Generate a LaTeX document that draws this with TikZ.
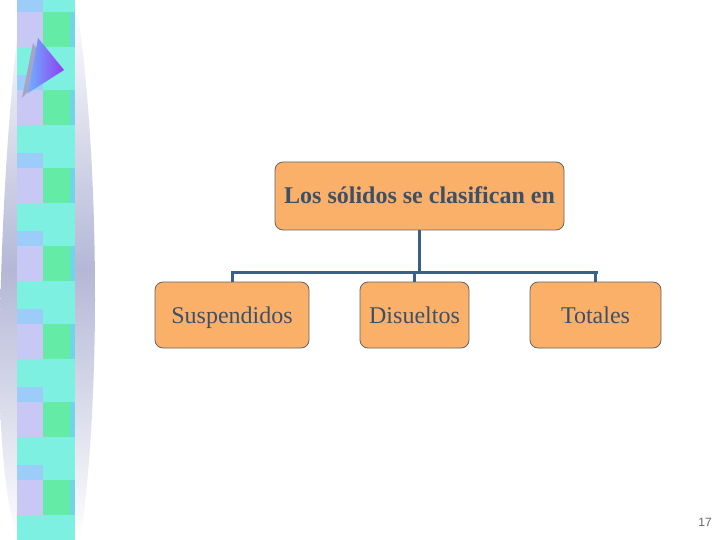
\documentclass[tikz,border=0pt]{standalone}
\usepackage{fontspec}
\setmainfont{Liberation Serif}
\newfontfamily\numfont{Liberation Sans}
\definecolor{boxfill}{RGB}{251,176,106}
\definecolor{boxline}{RGB}{100,100,100}
\definecolor{txt}{RGB}{64,80,100}
\definecolor{conn}{RGB}{58,95,138}
\definecolor{lav}{RGB}{200,200,245}
\definecolor{lblue}{RGB}{155,205,248}
\definecolor{lgreen}{RGB}{100,235,165}
\definecolor{lcyan}{RGB}{125,240,225}
\definecolor{edgecyan}{RGB}{110,215,230}
\definecolor{spindle}{RGB}{180,184,214}
\definecolor{triL}{RGB}{110,175,255}
\definecolor{triR}{RGB}{145,60,240}
\definecolor{trishadow}{RGB}{165,165,200}
\tikzset{
  boxnode/.style={draw=boxline, line width=0.8pt, fill=boxfill, rounded corners=8pt,
    text=txt, font=\fontsize{24}{28}\selectfont, inner sep=0pt, align=center,
    text height=18.5pt, text depth=2.5pt},
  connline/.style={draw=conn, line width=3pt},
}
\begin{document}
\begin{tikzpicture}[x=1pt,y=-1pt]
\useasboundingbox (0,0) rectangle (720,540);
\fill[white] (0,0) rectangle (720,540);
% spindle background
\shade[top color=white, bottom color=white, middle color=spindle]
  (22,0) .. controls (5,120) and (-2,300) .. (0,400) .. controls (2,470) and (10,520) .. (18,540)
  -- (80,540) .. controls (90,480) and (95,380) .. (95,300) .. controls (95,180) and (88,80) .. (76,0) -- cycle;
% checker strip
\foreach \k in {-1,...,7}{
  \pgfmathsetmacro{\yo}{-31+78*\k}
  \fill[lcyan] (17,\yo) rectangle (75,\yo+28);
  \fill[lblue] (17,\yo+28) rectangle (43,\yo+43);
  \fill[lcyan] (43,\yo+28) rectangle (75,\yo+43);
  \fill[lav] (17,\yo+43) rectangle (43,\yo+78);
  \fill[lgreen] (43,\yo+43) rectangle (70,\yo+78);
  \fill[edgecyan] (70,\yo+43) rectangle (75,\yo+78);
}
\fill[white] (0,-40) rectangle (100,0);
\fill[white] (0,540) rectangle (100,600);
% triangle
\fill[trishadow] (33,43) -- (50,70) -- (22,98) -- cycle;
\shade[left color=triL, right color=triR] (38,38) -- (64,70) -- (28,93) -- cycle;
% nodes
\node[boxnode, font=\fontsize{24}{28}\selectfont\bfseries, minimum width=289pt, minimum height=68pt] (top) at (419.5,196) {Los sólidos se clasifican en};
\node[boxnode, minimum width=154pt, minimum height=66pt] (sus) at (232,315) {Suspendidos};
\node[boxnode, minimum width=109pt, minimum height=66pt] (dis) at (414.5,315) {Disueltos};
\node[boxnode, minimum width=131pt, minimum height=66pt] (tot) at (595.5,315) {Totales};
\coordinate (busL) at (232,272);
\coordinate (busR) at (596,272);
\draw[connline] (top.south) -- (top.south |- busL);
\draw[connline, line cap=rect] (busL) -- (busR);
\draw[connline] (sus.north) -- (sus.north |- busL);
\draw[connline] (dis.north) -- (dis.north |- busL);
\draw[connline] (tot.north) -- (tot.north |- busL);
\node[text=gray!80!black, font=\numfont\fontsize{12}{14}\selectfont, inner sep=0pt] (pg) at (705,522) {17};
\end{tikzpicture}
\end{document}
